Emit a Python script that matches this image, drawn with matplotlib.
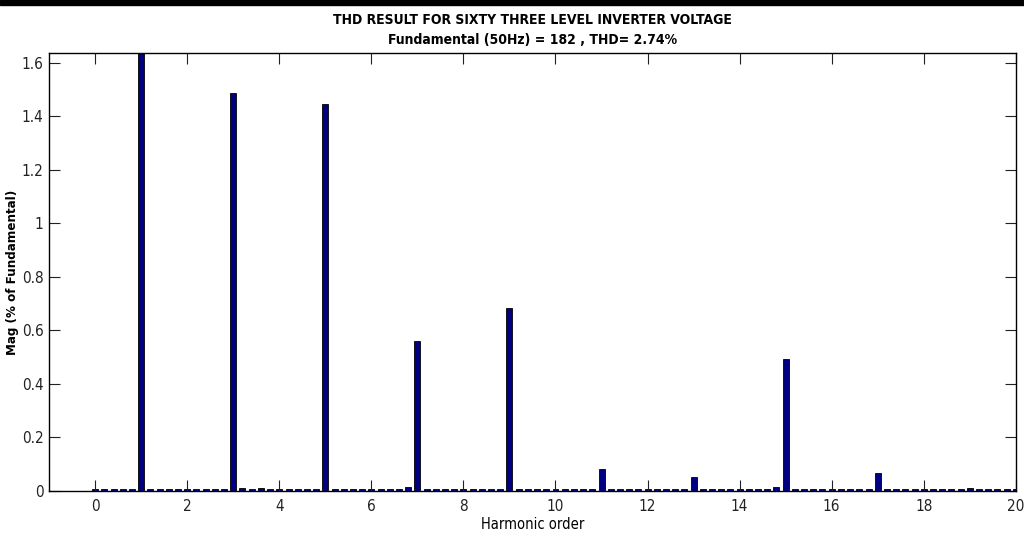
import matplotlib.pyplot as plt
import numpy as np
from matplotlib.patches import Rectangle

''' Data '''
# harmonic orders (steps of 0.2, i.e. 10 Hz bins)
harm_order = np.round(np.arange(0, 101) * 0.2, 1)

# magnitude in % of fundamental (fundamental bar clipped by the axis)
mag = [0.006, 0.007, 0.007, 0.007, 0.007,
       100.0, 0.007, 0.007, 0.007, 0.007,
       0.007, 0.007, 0.007, 0.007, 0.007,
       1.485, 0.012, 0.007, 0.012, 0.007,
       0.007, 0.007, 0.007, 0.007, 0.007,
       1.444, 0.007, 0.007, 0.007, 0.007,
       0.007, 0.007, 0.007, 0.007, 0.014,
       0.560, 0.007, 0.007, 0.007, 0.007,
       0.007, 0.007, 0.007, 0.007, 0.007,
       0.685, 0.007, 0.007, 0.007, 0.007,
       0.007, 0.007, 0.007, 0.007, 0.007,
       0.082, 0.007, 0.007, 0.007, 0.007,
       0.007, 0.007, 0.007, 0.007, 0.007,
       0.052, 0.007, 0.007, 0.007, 0.007,
       0.007, 0.007, 0.007, 0.007, 0.014,
       0.494, 0.007, 0.007, 0.007, 0.007,
       0.007, 0.007, 0.007, 0.007, 0.007,
       0.067, 0.007, 0.007, 0.007, 0.007,
       0.007, 0.007, 0.007, 0.007, 0.007,
       0.012, 0.007, 0.007, 0.007, 0.007,
       0.007]

xticks = list(range(0, 21, 2))
yticks = [0, 0.2, 0.4, 0.6, 0.8, 1, 1.2, 1.4, 1.6]
ytick_labels = ['0', '0.2', '0.4', '0.6', '0.8', '1', '1.2', '1.4', '1.6']

title_txt = "THD RESULT FOR SIXTY THREE LEVEL INVERTER VOLTAGE\nFundamental (50Hz) = 182 , THD= 2.74%"
xaxis_label = "Harmonic order"
yaxis_label = "Mag (% of Fundamental)"

''' Plot '''
plt.rcParams['font.family'] = ['DejaVu Sans']
plt.rcParams['font.stretch'] = 'condensed'

fig = plt.figure(figsize=(10.24, 5.37), dpi=100)
ax = fig.add_axes([0.048, 0.0857, 0.944, 0.815])

ax.bar(harm_order, mag, width=0.13, color='#000080', edgecolor='black', linewidth=0.6)

ax.set_xlim(-1, 20)
ax.set_ylim(0, 1.635)
ax.set_xticks(xticks)
ax.set_yticks(yticks)
ax.set_yticklabels(ytick_labels)
ax.tick_params(direction='in', length=8, width=0.8, top=True, right=True,
               labelsize=11, colors='#222222')
ax.tick_params(axis='x', pad=6)
ax.tick_params(axis='y', pad=4)
for sp in ax.spines.values():
    sp.set_linewidth(1.0)

ax.set_xlabel(xaxis_label, fontsize=10.5, labelpad=2)
ax.set_ylabel(yaxis_label, fontsize=9.5, fontweight='bold')
ax.yaxis.set_label_coords(-0.031, 0.5)
ax.set_title(title_txt, fontsize=10, fontweight='bold', linespacing=1.5, pad=7)

# black strip along the top edge
fig.add_artist(Rectangle((0, 0.99), 1, 0.01, transform=fig.transFigure,
                         color='black', zorder=10))

plt.savefig("out.png", dpi=100)
